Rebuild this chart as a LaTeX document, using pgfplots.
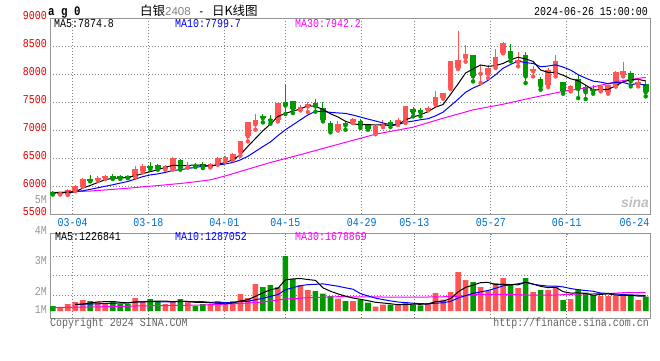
\documentclass[border=0pt]{standalone}
\usepackage{pgfplots}
\usepackage{pgfplotstable}
\pgfplotsset{compat=1.18}
\usepackage{fontspec}
\newfontfamily\mono[FakeStretch=0.83]{Liberation Mono}
\newfontfamily\cjk{Noto Sans CJK SC}
\newfontfamily\lsans{Liberation Sans}
\newcommand\ms{\mono\fontsize{12}{12}\selectfont}
\definecolor{cred}{RGB}{255,85,85}
\definecolor{cgreen}{RGB}{0,153,0}
\definecolor{tred}{RGB}{230,0,0}
\definecolor{tblue}{RGB}{0,110,200}
\definecolor{gridc}{RGB}{130,130,130}
\definecolor{framec}{RGB}{150,150,150}
\definecolor{mablue}{RGB}{0,0,255}
\definecolor{mamag}{RGB}{255,0,255}
\definecolor{lgray}{RGB}{150,150,150}
\definecolor{fgray}{RGB}{100,100,100}

% price candles: index, open, high, low, close
\pgfplotstableread{
i o h l c
1 5857 5890 5850 5887
2 5851 5940 5842 5929
3 5917 6010 5910 6006
4 5994 6136 5990 6131
6 6113 6185 6095 6149
7 6143 6205 6125 6185
11 6161 6363 6155 6310
12 6262 6399 6244 6363
15 6310 6375 6292 6357
16 6304 6518 6292 6506
18 6339 6434 6327 6345
21 6339 6405 6333 6398
22 6398 6517 6380 6493
23 6470 6541 6440 6517
24 6470 6585 6460 6577
25 6607 6812 6541 6809
26 6886 7150 6797 7148
27 7100 7285 7005 7184
30 7184 7487 7154 7487
33 7374 7440 7350 7404
34 7422 7499 7321 7464
38 7006 7166 6990 7112
40 7136 7208 7124 7196
43 6929 7070 6925 7065
44 7070 7180 7050 7110
46 7113 7208 7089 7184
47 7154 7434 7124 7434
50 7362 7422 7350 7392
51 7470 7690 7452 7589
52 7571 7666 7559 7666
53 7749 8225 7731 8225
54 8106 8761 8089 8243
55 8291 8523 8220 8362
57 8005 8166 7838 8017
58 8000 8166 7928 8107
59 8137 8446 8107 8309
60 8375 8565 8370 8553
62 8214 8392 8137 8243
64 8047 8137 7957 8089
66 7808 8107 7766 8077
67 8000 8345 7957 8237
69 7737 7808 7690 7779
73 7707 7808 7690 7779
74 7672 7797 7648 7797
75 7779 8047 7779 8029
76 7987 8208 7957 8059
78 7826 7885 7779 7856
}\redk

\pgfplotstableread{
i o h l c
0 5895 5905 5848 5860
5 6131 6200 6083 6095
8 6185 6210 6125 6137
9 6185 6200 6125 6143
10 6170 6185 6140 6150
13 6363 6434 6304 6321
14 6381 6399 6292 6310
17 6470 6488 6292 6315
19 6381 6417 6339 6351
20 6399 6420 6320 6345
28 7243 7290 7136 7213
29 7195 7273 7112 7172
31 7505 7812 7285 7437
32 7511 7511 7303 7374
35 7475 7559 7327 7422
36 7398 7493 7154 7172
37 7118 7166 6958 6990
39 7124 7166 7005 7082
41 7166 7196 7035 7077
42 7095 7113 7005 7024
45 7136 7172 7053 7113
48 7380 7410 7243 7315
49 7362 7386 7243 7315
56 8332 8332 7868 7957
61 8416 8541 8226 8285
63 8345 8392 7838 7957
65 7915 7945 7720 7779
68 7856 7856 7648 7701
70 7910 7987 7570 7731
71 7766 7808 7553 7672
72 7731 7808 7648 7701
77 8017 8059 7779 7868
79 7826 7868 7600 7672
}\greenk

% volume (chart units)
\pgfplotstableread{
i v
1 3.4
2 6.8
3 9.0
4 10.8
6 8.8
7 8.0
11 13.0
12 9.0
15 7.0
16 9.8
18 10.0
21 7.0
22 10.0
23 6.7
24 10.0
25 16.8
26 13.0
27 26.8
30 24.0
33 25.8
34 20.8
38 12.3
40 10
43 4.3
44 6.3
46 6.3
47 9
50 8
51 18
52 11.3
53 19
54 39
55 31
57 24
58 20
59 28
60 33
62 23
64 19
66 21
67 24.7
69 12
73 15
74 15
75 15
76 17
78 11
}\redv

\pgfplotstableread{
i v
0 4.8
5 10.0
8 9.8
9 7.0
10 7.0
13 11.8
14 8.8
17 11.8
19 5.0
20 7.0
28 24.0
29 25.8
31 55.0
32 31.8
35 19.8
36 17.5
37 15
39 10
41 11
42 8.3
45 6.3
48 6.3
49 5.7
56 29
61 27
63 33
65 21
68 11
70 21.7
71 18.3
72 16
77 16.7
79 14.3
}\greenv

\pgfplotsset{
  kgrid/.style={
    xmin=-0.36, xmax=79.57,
    scale only axis,
    axis line style={framec, line width=1pt},
    major tick length=0.1pt,
    tick style={framec},
    grid=major,
    grid style={draw=gridc, line width=1pt, dash pattern=on 1pt off 2pt},
    major grid style={draw=gridc, line width=1pt, dash pattern=on 1pt off 2pt},
    xtick={2.66,12.74,22.86,30.99,41.17,48.18,58.36,68.48},
  },
}

\begin{document}
\begin{tikzpicture}[x=1pt,y=1pt]
\path[use as bounding box] (0,0) rectangle (660,360);
\fill[white] (0,0) rectangle (660,360);

% ---------------- price panel ----------------
\begin{axis}[kgrid,
  at={(50pt,146pt)}, anchor=south west,
  width=600pt, height=196pt,
  ymin=5500, ymax=9000,
  xticklabels={03-04,03-18,04-01,04-15,04-29,05-13,05-27,06-11},
  extra x ticks={77.5}, extra x tick labels={06-24},
  extra x tick style={grid=none},
  xticklabel style={font=\ms, text=tblue, anchor=north, inner sep=0pt, yshift=-4pt},
  ytick={5500,6000,6500,7000,7500,8000,8500,9000},
  yticklabels={5500,6000,6500,7000,7500,8000,8500,9000},
  yticklabel style={font=\ms, text=tred, anchor=east, inner sep=0pt, xshift=-3pt, yshift=2pt},
]
% wicks
\addplot[cred, only marks, mark=none, forget plot,
  error bars/.cd, y dir=plus, y explicit, error mark=none,
  error bar style={cred, line width=1pt, solid}]
  table[x=i, y=l, y error expr=\thisrow{h}-\thisrow{l}] {\redk};
\addplot[cgreen, only marks, mark=none, forget plot,
  error bars/.cd, y dir=plus, y explicit, error mark=none,
  error bar style={cgreen, line width=1pt, solid}]
  table[x=i, y=l, y error expr=\thisrow{h}-\thisrow{l}] {\greenk};
% bodies
\addplot[cred, only marks, mark=none, forget plot,
  error bars/.cd, y dir=plus, y explicit, error mark=none,
  error bar style={cred, line width=5.6pt, solid}]
  table[x=i, y=o, y error expr=\thisrow{c}-\thisrow{o}] {\redk};
\addplot[cgreen, only marks, mark=none, forget plot,
  error bars/.cd, y dir=plus, y explicit, error mark=none,
  error bar style={cgreen, line width=5.6pt, solid}]
  table[x=i, y=c, y error expr=\thisrow{o}-\thisrow{c}] {\greenk};
% MA30
\addplot[mamag, line width=1pt, mark=none] coordinates {
(0,5885)(5,5910)(8,5940)(10,5960)(12,5985)(14,6008)(17,6045)(19,6075)(21,6110)(23,6180)(26,6300)(29,6420)(33,6560)(36,6670)(39,6780)(43,6925)(48,7050)(52,7210)(56,7360)(60,7460)(64,7580)(68,7690)(72,7770)(75,7860)(77,7905)(79,7940)};
% MA10
\addplot[mablue, line width=1pt, mark=none] coordinates {
(0,5880)(1,5882)(2,5886)(3,5900)(4,5915)(5,5940)(6,5968)(7,5995)(8,6022)(9,6052)(10,6081)(11,6124)(12,6167)(13,6198)(14,6216)(15,6242)(16,6278)(17,6291)(18,6312)(19,6333)(20,6352)(21,6361)(22,6374)(23,6394)(24,6420)(25,6466)(26,6530)(27,6617)(28,6704)(29,6786)(30,6900)(31,7004)(32,7092)(33,7181)(34,7270)(35,7331)(36,7333)(37,7315)(38,7305)(39,7296)(40,7267)(41,7231)(42,7195)(43,7161)(44,7126)(45,7095)(46,7096)(47,7139)(48,7159)(49,7183)(50,7202)(51,7253)(52,7318)(53,7434)(54,7548)(55,7673)(56,7750)(57,7808)(58,7887)(59,7987)(60,8103)(61,8172)(62,8230)(63,8203)(64,8188)(65,8130)(66,8142)(67,8164)(68,8123)(69,8070)(70,7988)(71,7927)(72,7872)(73,7855)(74,7825)(75,7850)(76,7849)(77,7812)(78,7827)(79,7800)};
% MA5
\addplot[black, line width=1pt, mark=none] coordinates {
(0,5885)(1,5880)(2,5882)(3,5895)(4,5963)(5,6010)(6,6062)(7,6113)(8,6139)(9,6142)(10,6153)(11,6185)(12,6221)(13,6257)(14,6291)(15,6332)(16,6371)(17,6362)(18,6367)(19,6375)(20,6372)(21,6351)(22,6386)(23,6421)(24,6466)(25,6559)(26,6709)(27,6847)(28,6986)(29,7105)(30,7241)(31,7298)(32,7337)(33,7375)(34,7434)(35,7421)(36,7367)(37,7290)(38,7232)(39,7156)(40,7110)(41,7094)(42,7098)(43,7089)(44,7095)(45,7076)(46,7098)(47,7181)(48,7231)(49,7272)(50,7328)(51,7409)(52,7455)(53,7637)(54,7823)(55,8017)(56,8091)(57,8161)(58,8137)(59,8150)(60,8189)(61,8254)(62,8299)(63,8269)(64,8225)(65,8071)(66,8029)(67,8028)(68,7977)(69,7915)(70,7880)(71,7800)(72,7717)(73,7720)(74,7725)(75,7790)(76,7860)(77,7895)(78,7905)(79,7875)};
\end{axis}

% ---------------- volume panel ----------------
\begin{axis}[kgrid,
  at={(50pt,41.7pt)}, anchor=south west,
  width=600pt, height=84.5pt,
  ymin=-7.3, ymax=77.2,
  xticklabels={}, ytick={16,35.7,55}, yticklabels={},
]
\addplot[ybar, bar width=5.6pt, bar shift=0pt, fill=cred, draw=none] table[x=i, y=v] {\redv};
\addplot[ybar, bar width=5.6pt, bar shift=0pt, fill=cgreen, draw=none] table[x=i, y=v] {\greenv};
% MA30
\addplot[mamag, line width=1pt, mark=none] coordinates {
(0,3.5)(5,4)(11,5)(20,6)(25,7.5)(28,9)(31,12)(34,13.3)(38,14.3)(44,14)(50,14)(54,14.5)(56,16.5)(60,16.7)(63,16)(67,16)(70,17)(74,17.5)(76,18.3)(79,18.3)};
% MA10
\addplot[mablue, line width=1pt, mark=none] coordinates {
(3,6.5)(4,6.8)(5,7.0)(6,7.2)(7,7.5)(8,7.7)(9,7.84)(10,8.06)(11,9.02)(12,9.24)(13,9.52)(14,9.32)(15,9.02)(16,9.12)(17,9.5)(18,9.52)(19,9.32)(20,9.32)(21,8.72)(22,8.82)(23,8.31)(24,8.43)(25,9.41)(26,9.73)(27,11.23)(28,12.63)(29,14.71)(30,16.41)(31,21.21)(32,23.39)(33,25.3)(34,26.38)(35,26.68)(36,27.13)(37,25.95)(38,24.78)(39,23.2)(40,21.8)(41,17.4)(42,15.05)(43,12.9)(44,11.45)(45,10.1)(46,8.98)(47,8.38)(48,7.78)(49,7.35)(50,7.15)(51,7.85)(52,8.15)(53,9.62)(54,12.89)(55,15.36)(56,17.63)(57,19.13)(58,20.5)(59,22.73)(60,25.23)(61,26.13)(62,27.3)(63,28.7)(64,26.7)(65,25.7)(66,24.9)(67,24.97)(68,24.07)(69,22.47)(70,21.34)(71,20.47)(72,19.77)(73,17.97)(74,17.57)(75,16.97)(76,16.57)(77,15.77)(78,15.77)(79,15.6)};
% MA5
\addplot[black, line width=1pt, mark=none] coordinates {
(3,6.5)(4,6.96)(5,8.0)(6,9.08)(7,9.32)(8,9.48)(9,8.72)(10,8.12)(11,8.96)(12,9.16)(13,9.56)(14,9.92)(15,9.92)(16,9.28)(17,9.84)(18,9.48)(19,8.72)(20,8.72)(21,8.16)(22,7.8)(23,7.14)(24,8.14)(25,10.1)(26,11.3)(27,14.66)(28,18.12)(29,21.28)(30,22.72)(31,31.12)(32,32.12)(33,32.48)(34,31.48)(35,30.64)(36,23.14)(37,19.78)(38,17.08)(39,14.92)(40,12.96)(41,11.66)(42,10.32)(43,8.72)(44,7.98)(45,7.24)(46,6.3)(47,6.44)(48,6.84)(49,6.72)(50,7.06)(51,9.4)(52,9.86)(53,12.4)(54,19.06)(55,23.66)(56,25.86)(57,28.4)(58,28.6)(59,26.4)(60,26.8)(61,26.4)(62,26.2)(63,28.8)(64,27.0)(65,24.6)(66,23.4)(67,23.74)(68,19.34)(69,17.94)(70,18.08)(71,17.54)(72,15.8)(73,16.6)(74,17.2)(75,15.86)(76,15.6)(77,15.74)(78,14.94)(79,14.8)};
\end{axis}

% ---------------- texts ----------------
\node[anchor=base west, inner sep=0pt, font=\mono\bfseries\fontsize{13}{13}\selectfont] at (48,345) {a g 0};
\node[anchor=base west, inner sep=0pt] at (140,344.5) {{\cjk\fontsize{12.5}{12.5}\selectfont 白银}{\lsans\fontsize{11.5}{11.5}\selectfont\color{gray}2408}\,{\ms\ -\ }\,{\cjk\fontsize{12.5}{12.5}\selectfont 日K线图}};
\node[anchor=base east, inner sep=0pt, font=\ms] at (648,345) {2024-06-26 15:00:00};

\node[anchor=base west, inner sep=0pt, font=\ms] at (54,333) {MA5:7874.8};
\node[anchor=base west, inner sep=0pt, font=\ms, text=mablue] at (175,333) {MA10:7799.7};
\node[anchor=base west, inner sep=0pt, font=\ms, text=mamag] at (295,333) {MA30:7942.2};

\node[anchor=base west, inner sep=0pt, font=\ms] at (55,119.5) {MA5:1226841};
\node[anchor=base west, inner sep=0pt, font=\ms, text=mablue] at (175,119.5) {MA10:1287052};
\node[anchor=base west, inner sep=0pt, font=\ms, text=mamag] at (295,119.5) {MA30:1678869};

\node[anchor=east, inner sep=0pt, font=\ms, text=lgray] at (47,160) {5M};
\node[anchor=east, inner sep=0pt, font=\ms, text=lgray] at (47,129.3) {4M};
\node[anchor=east, inner sep=0pt, font=\ms, text=lgray] at (47,99.3) {3M};
\node[anchor=east, inner sep=0pt, font=\ms, text=lgray] at (47,69) {2M};
\node[anchor=east, inner sep=0pt, font=\ms, text=lgray] at (47,50) {1M};

\node[anchor=base west, inner sep=0pt, font=\ms, text=fgray] at (50,34) {Copyright 2024 SINA.COM};
\node[anchor=base east, inner sep=0pt, font=\ms, text=fgray] at (649,34) {http://finance.sina.com.cn};

\node[inner sep=0pt, font=\lsans\bfseries\itshape\fontsize{14}{14}\selectfont, text=black!25] at (635,158) {sina};
\end{tikzpicture}
\end{document}
